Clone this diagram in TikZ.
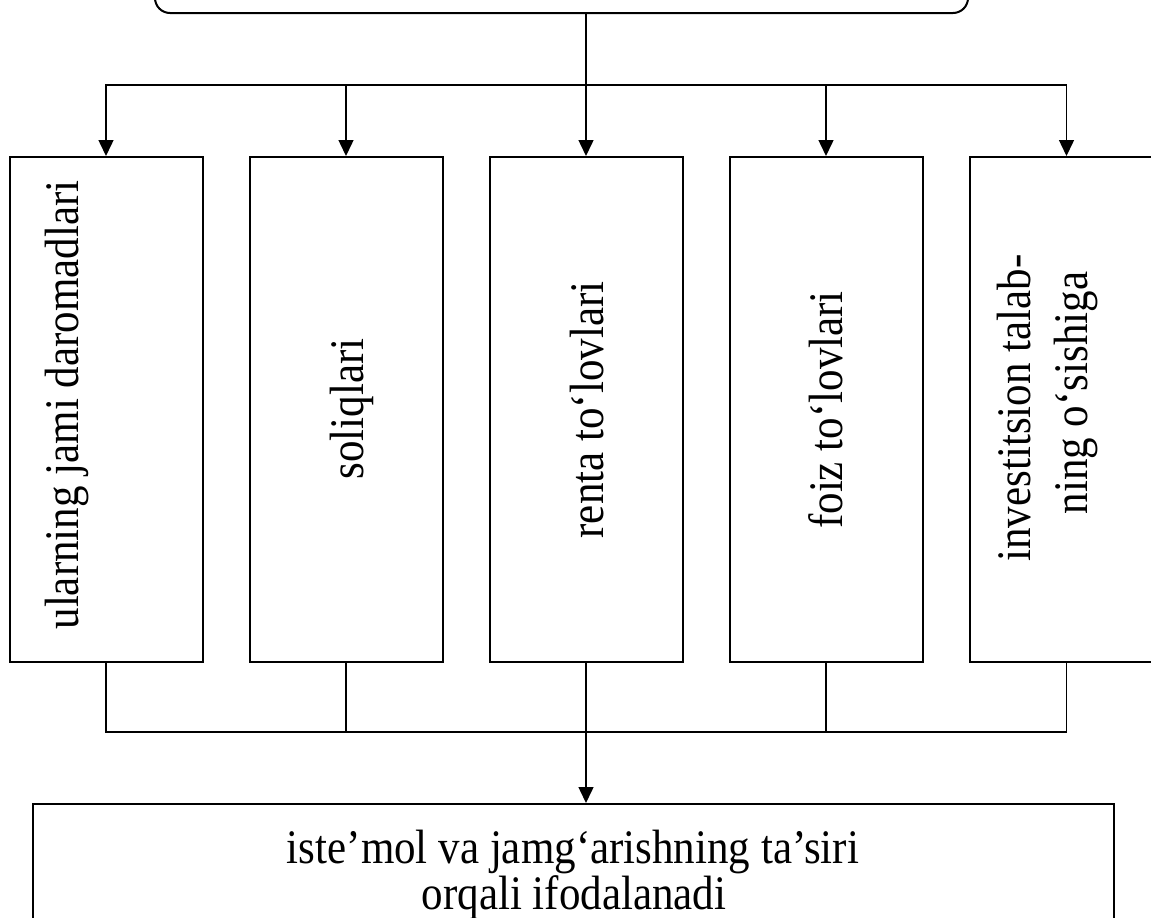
\documentclass[tikz,border=0pt]{standalone}
\usepackage{fontspec}
\setmainfont{Liberation Serif}
\usetikzlibrary{arrows.meta}
\newcommand{\tallt}[1]{\scalebox{1}[1.12]{#1}}
\begin{document}
\begin{tikzpicture}[x=1pt,y=-1pt,
  boxnode/.style={draw=black,line width=2pt,minimum width=193pt,minimum height=505pt,inner sep=0pt},
  conn/.style={draw=black,line width=1.5pt},
  arrowconn/.style={conn,-{Triangle[length=16pt,width=15pt]}},
  vtext/.style={rotate=90,anchor=base,inner sep=0pt,font=\fontsize{43}{46}\selectfont},
  htext/.style={anchor=base,inner sep=0pt,font=\fontsize{43}{46}\selectfont}]
\useasboundingbox (0,0) rectangle (1151,918);
\clip (0,0) rectangle (1151,918);
\fill[white] (0,0) rectangle (1151,918);
% top rounded box (cut off)
\node[draw=black,line width=2pt,rounded corners=15pt,minimum width=813pt,minimum height=80pt,inner sep=0pt] (top) at (561.5,-27) {};
% five boxes
\node[boxnode] (b1) at (106,409.5) {};
\node[boxnode] (b2) at (346,409.5) {};
\node[boxnode] (b3) at (586,409.5) {};
\node[boxnode] (b4) at (826,409.5) {};
\node[boxnode] (b5) at (1066.5,409.5) {};
% texts
\node[vtext] (t1) at (78,405) {\tallt{ularning jami daromadlari}};
\node[vtext] (t2) at (363,409) {\tallt{soliqlari}};
\node[vtext] (t3) at (603,410) {\tallt{renta to‘lovlari}};
\node[vtext] (t4) at (842,410) {\tallt{foiz to‘lovlari}};
\node[vtext] (t5a) at (1030,408) {\tallt{investitsion talab-}};
\node[vtext] (t5b) at (1087,393) {\tallt{ning o‘sishiga}};
% bottom box
\node[draw=black,line width=2pt,minimum width=1081pt,minimum height=152pt,inner sep=0pt] (bot) at (573.5,880) {};
\node[htext] (bl1) at (573,863) {\tallt{iste’mol va jamg‘arishning ta’siri}};
\node[htext] (bl2) at (574,909) {\tallt{orqali ifodalanadi}};
% top connectors
\coordinate (split) at (586,85);
\draw[conn] (top.south -| split) -- (split);
\draw[conn,line cap=rect] (b1.north |- split) -- (b5.north |- split);
\foreach \i in {1,...,5} {\draw[arrowconn] (b\i.north |- split) -- (b\i.north);}
% bottom connectors
\coordinate (join) at (586,732);
\foreach \i in {1,...,5} {\draw[conn] (b\i.south) -- (b\i.south |- join);}
\draw[conn,line cap=rect] (b1.south |- join) -- (b5.south |- join);
\draw[arrowconn] (join) -- (join |- bot.north);
\end{tikzpicture}
\end{document}
